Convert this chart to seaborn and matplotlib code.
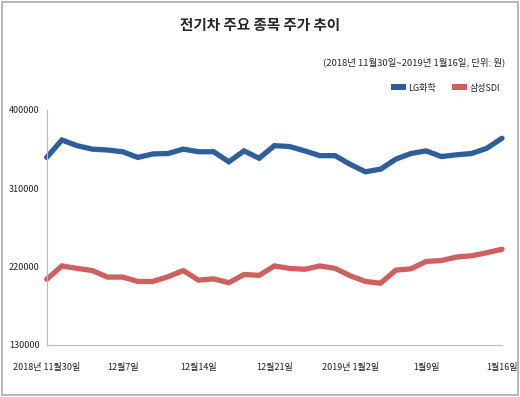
import numpy as np
import pandas as pd
import seaborn as sns
import matplotlib.pyplot as plt
from matplotlib.patches import Patch, Rectangle

# 거래일 (2018-11-30 ~ 2019-01-16)
dates = ["11/30", "12/3", "12/4", "12/5", "12/6", "12/7", "12/10", "12/11", "12/12", "12/13",
         "12/14", "12/17", "12/18", "12/19", "12/20", "12/21", "12/24", "12/26", "12/27", "12/28",
         "1/2", "1/3", "1/4", "1/7", "1/8", "1/9", "1/10", "1/11", "1/14", "1/15", "1/16"]

lg_chem = [345500, 365500, 359000, 355000, 354000, 352000, 345500, 349500, 350000, 355000,
           352000, 352000, 340500, 353000, 344500, 359000, 358000, 353000, 347500, 347500,
           337500, 329000, 332000, 343500, 350000, 353000, 346500, 348500, 350000, 356000, 367500]

samsung_sdi = [205500, 220800, 218000, 215500, 208000, 208000, 203000, 203000, 208500, 215500,
               204500, 206000, 201500, 211000, 210000, 220800, 218000, 217000, 220800, 218000,
               209500, 203000, 201000, 216000, 217500, 226000, 227000, 231000, 232500, 236000, 240000]

series_names = ["LG화학", "삼성SDI"]
series_colors = ["#2e5f9b", "#cf605e"]

tick_idx = [0, 5, 10, 15, 20, 25, 30]
tick_labels = ["2018년 11월30일", "12월7일", "12월14일", "12월21일", "2019년 1월2일", "1월9일", "1월16일"]
y_ticks = [130000, 220000, 310000, 400000]

sns.set_style("white")
plt.rcParams['font.family'] = ['Noto Sans CJK KR', 'DejaVu Sans']

df = pd.DataFrame({
    "idx": list(range(len(dates))) * 2,
    "price": lg_chem + samsung_sdi,
    "name": [series_names[0]] * len(dates) + [series_names[1]] * len(dates),
})

fig = plt.figure(figsize=(5.2, 3.97), dpi=100)
ax = fig.add_axes([0.0898, 0.131, 0.8756, 0.592])

sns.lineplot(data=df, x="idx", y="price", hue="name", palette=series_colors,
             hue_order=series_names, linewidth=3.8, ax=ax, legend=False)
for line in ax.lines:
    line.set_solid_joinstyle("miter")
    line.set_clip_on(False)

ax.set_xlim(0, len(dates) - 1)
ax.set_ylim(130000, 400000)
ax.set_xticks(tick_idx)
ax.set_xticklabels(tick_labels, fontsize=6.5, fontweight="medium")
ax.set_yticks(y_ticks)
ax.set_yticklabels([str(v) for v in y_ticks], fontsize=6.5, fontweight="medium")
ax.set_xlabel("")
ax.set_ylabel("")
ax.tick_params(axis="x", length=0, pad=13, colors="#222222")
ax.tick_params(axis="y", length=3, width=0.6, pad=2, colors="#222222")
ax.tick_params(axis="y", color="#aaaaaa")
for s in ["top", "right"]:
    ax.spines[s].set_visible(False)
for s in ["left", "bottom"]:
    ax.spines[s].set_color("#bbbbbb")
    ax.spines[s].set_linewidth(0.8)

fig.text(0.5, 1 - 25 / 397, "전기차 주요 종목 주가 추이", ha="center", va="center",
         fontsize=10.5, fontweight="bold")
fig.text(505 / 520, 1 - 62 / 397, "(2018년 11월30일~2019년 1월16일, 단위: 원)",
         ha="right", va="center", fontsize=6.8, fontweight="medium")

handles = [Patch(facecolor=c, edgecolor="none", label=n) for n, c in zip(series_names, series_colors)]
fig.legend(handles=handles, loc="center right", bbox_to_anchor=(508 / 520, 1 - 88 / 397),
           ncol=2, frameon=False, fontsize=6.5, handlelength=1.6, handleheight=0.6,
           handletextpad=0.3, columnspacing=1.8)

fig.add_artist(Rectangle((0.003, 0.004), 0.993, 0.992, transform=fig.transFigure,
                         fill=False, edgecolor="#aaaaaa", linewidth=1.2))

fig.savefig("out.png", dpi=100)
plt.close(fig)
